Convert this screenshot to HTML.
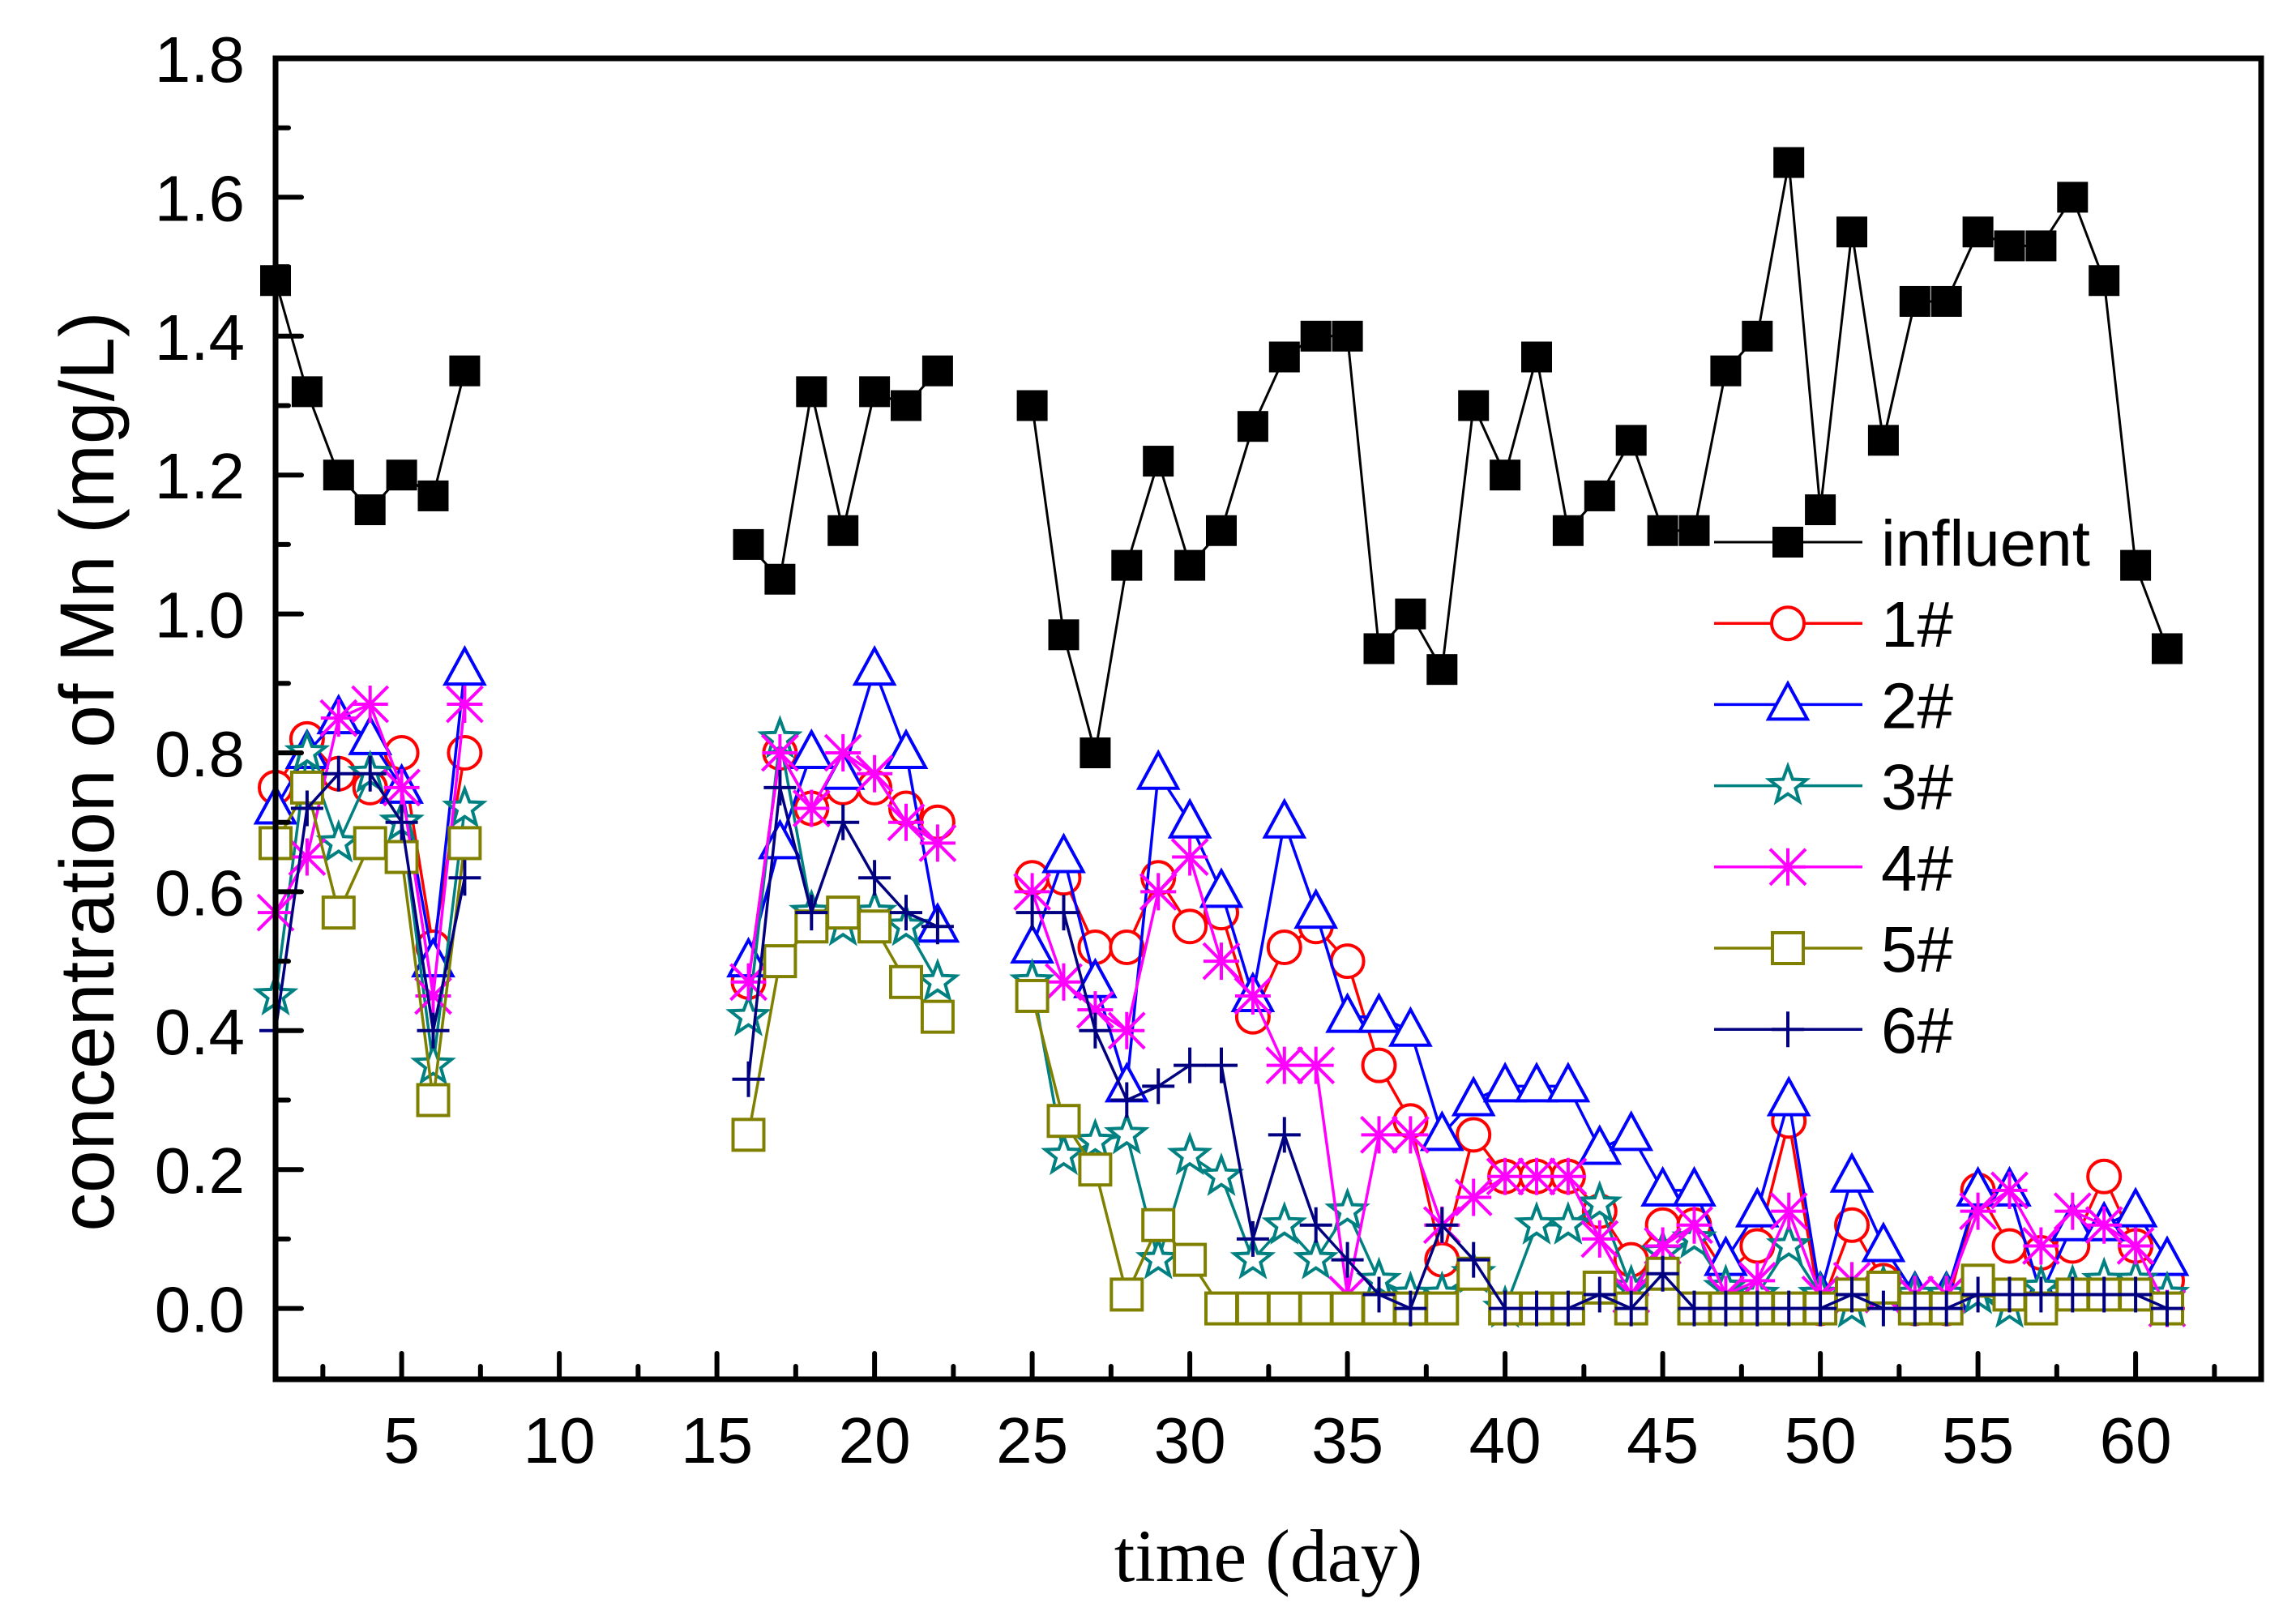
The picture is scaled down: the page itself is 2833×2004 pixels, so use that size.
<!DOCTYPE html>
<html><head><meta charset="utf-8">
<style>
html,body{margin:0;padding:0;background:#fff;}
svg{display:block;}
text{font-family:"Liberation Sans",sans-serif;}
</style></head>
<body>
<svg id="chart" width="2833" height="2004" viewBox="0 0 2833 2004" xmlns="http://www.w3.org/2000/svg">
<rect x="0" y="0" width="2833" height="2004" fill="#fff"/>
<g id="series-layer"></g>
<rect x="340" y="72" width="2450" height="1630" fill="none" stroke="#000" stroke-width="7"/>
<g id="axis-layer"></g>
<text transform="translate(140,952) rotate(-90)" text-anchor="middle" font-size="95">concentration of Mn (mg/L)</text>
<text x="1565" y="1951" text-anchor="middle" font-size="92" style="font-family:'Liberation Serif',serif">time (day)</text>
<g id="legend"></g>
</svg>
<script>
const days = [1,2,3,4,5,6,7,16,17,18,19,20,21,22,25,26,27,28,29,30,31,32,33,34,35,36,37,38,39,40,41,42,43,44,45,46,47,48,49,50,51,52,53,54,55,56,57,58,59,60,61];
const influent = [1.48,1.32,1.20,1.15,1.20,1.17,1.35, 1.10,1.05,1.32,1.12,1.32,1.30,1.35, 1.30,0.97,0.80,1.07,1.22,1.07,1.12,1.27,1.37,1.40,1.40,0.95,1.00,0.92,1.30,1.20,1.37,1.12,1.17,1.25,1.12,1.12,1.35,1.40,1.65,1.15,1.55,1.25,1.45,1.45,1.55,1.53,1.53,1.60,1.48,1.07,0.95];
const s1 = [0.75,0.82,0.77,0.75,0.80,0.52,0.80, 0.47,0.80,0.72,0.75,0.75,0.72,0.70, 0.62,0.62,0.52,0.52,0.62,0.55,0.57,0.42,0.52,0.55,0.50,0.35,0.27,0.07,0.25,0.19,0.19,0.19,0.14,0.07,0.12,0.12,0.05,0.09,0.27,0.00,0.12,0.04,0.00,0.00,0.17,0.09,0.08,0.09,0.19,0.09,0.04];
const s2 = [0.72,0.80,0.85,0.82,0.75,0.50,0.92, 0.50,0.67,0.80,0.77,0.92,0.80,0.55, 0.52,0.65,0.47,0.32,0.77,0.70,0.60,0.45,0.70,0.57,0.42,0.42,0.40,0.25,0.30,0.32,0.32,0.32,0.23,0.25,0.17,0.17,0.07,0.14,0.30,0.02,0.19,0.09,0.02,0.02,0.17,0.17,0.02,0.12,0.12,0.14,0.07];
const s3 = [0.45,0.80,0.67,0.77,0.70,0.35,0.72, 0.42,0.82,0.57,0.55,0.57,0.55,0.47, 0.47,0.22,0.24,0.25,0.07,0.22,0.19,0.07,0.12,0.07,0.14,0.04,0.02,0.02,0.05,0.00,0.12,0.12,0.15,0.03,0.08,0.10,0.03,0.02,0.09,0.02,0.00,0.03,0.02,0.02,0.02,0.00,0.03,0.03,0.04,0.04,0.02];
const s4 = [0.57,0.65,0.85,0.87,0.75,0.45,0.87, 0.47,0.80,0.72,0.80,0.77,0.70,0.67, 0.60,0.47,0.43,0.40,0.60,0.65,0.50,0.45,0.35,0.35,0.02,0.25,0.25,0.12,0.16,0.19,0.19,0.19,0.10,0.02,0.09,0.12,0.02,0.04,0.14,0.02,0.04,0.02,0.02,0.02,0.14,0.17,0.09,0.14,0.12,0.09,0.00];
const s5 = [0.67,0.75,0.57,0.67,0.65,0.30,0.67, 0.25,0.50,0.55,0.57,0.55,0.47,0.42, 0.45,0.27,0.20,0.02,0.12,0.07,0.00,0.00,0.00,0.00,0.00,0.00,0.00,0.00,0.05,0.00,0.00,0.00,0.03,0.00,0.05,0.00,0.00,0.00,0.00,0.00,0.02,0.03,0.00,0.00,0.04,0.02,0.00,0.02,0.02,0.02,0.00];
const s6 = [0.40,0.72,0.77,0.77,0.70,0.40,0.62, 0.33,0.75,0.57,0.70,0.62,0.57,0.55, 0.57,0.57,0.40,0.30,0.32,0.35,0.35,0.10,0.25,0.12,0.07,0.02,0.00,0.12,0.07,0.00,0.00,0.00,0.02,0.00,0.05,0.00,0.00,0.00,0.00,0.00,0.02,0.00,0.00,0.00,0.02,0.02,0.02,0.02,0.02,0.02,0.00];
const xTicks = [5,10,15,20,25,30,35,40,45,50,55,60];
const yTicks = [0.0,0.2,0.4,0.6,0.8,1.0,1.2,1.4,1.6,1.8];
const seriesNames = ["influent","1#","2#","3#","4#","5#","6#"];

const NS="http://www.w3.org/2000/svg";
const X0=340, XD0=1, KX=38.9;
function xs(d){return X0+KX*(d-XD0);}
function ys(v){return 1614.6-857*v;}
function mk(tag,attrs,parent){const e=document.createElementNS(NS,tag);for(const k in attrs)e.setAttribute(k,attrs[k]);parent.appendChild(e);return e;}

const styles=[
 {c:"#000",m:"fsquare",lw:3},
 {c:"#ff0000",m:"circle",lw:3.5},
 {c:"#0000ff",m:"triangle",lw:3.5},
 {c:"#008080",m:"star",lw:3.5},
 {c:"#ff00ff",m:"asterisk",lw:3.5},
 {c:"#808000",m:"square",lw:3.5},
 {c:"#000080",m:"plus",lw:3.5}
];
function marker(type,x,y,c,parent){
  let e;
  if(type==="fsquare"){e=mk("rect",{x:x-19,y:y-19,width:38,height:38,fill:"#000"},parent);}
  else if(type==="circle"){e=mk("circle",{cx:x,cy:y,r:20,fill:"#fff",stroke:c,"stroke-width":4},parent);}
  else if(type==="triangle"){e=mk("polygon",{points:`${x},${y-26} ${x-24},${y+18} ${x+24},${y+18}`,fill:"#fff",stroke:c,"stroke-width":4},parent);}
  else if(type==="star"){let p=[];for(let i=0;i<10;i++){const r=i%2?10:24;const a=-Math.PI/2+i*Math.PI/5;p.push((x+r*Math.cos(a)).toFixed(1)+","+(y+r*Math.sin(a)).toFixed(1));}
    e=mk("polygon",{points:p.join(" "),fill:"#fff",stroke:c,"stroke-width":4},parent);}
  else if(type==="asterisk"){e=mk("path",{d:`M${x},${y-23}V${y+23}M${x-22},${y-22}L${x+22},${y+22}M${x+22},${y-22}L${x-22},${y+22}M${x-22},${y}H${x+22}`,fill:"none",stroke:c,"stroke-width":4},parent);}
  else if(type==="square"){e=mk("rect",{x:x-19,y:y-19,width:38,height:38,fill:"#fff",stroke:c,"stroke-width":4},parent);}
  else if(type==="plus"){e=mk("path",{d:`M${x},${y-22}V${y+22}M${x-20},${y}H${x+20}`,fill:"none",stroke:c,"stroke-width":4},parent);}
  return e;
}
const all=[influent,s1,s2,s3,s4,s5,s6];
const sl=document.getElementById("series-layer");
all.forEach((vals,si)=>{
  const st=styles[si];
  const g=mk("g",{},sl);
  
  
  let d="";
  for(let i=0;i<days.length;i++){
    const cont=i>0 && days[i]-days[i-1]===1;
    d+=(cont?"L":"M")+xs(days[i]).toFixed(1)+","+ys(vals[i]).toFixed(1);
  }
  const ln=mk("path",{d:d,fill:"none",stroke:st.c,"stroke-width":st.lw,"stroke-linejoin":"round"},g);
  
  
  for(let i=0;i<days.length;i++){
    const m=marker(st.m,xs(days[i]),ys(vals[i]),st.c,g);
    
    
  }
});

const al=document.getElementById("axis-layer");
for(let d=2.5;d<=63;d+=2.5){
  const major=(d%5===0);
  const t=mk("line",{x1:xs(d),x2:xs(d),y1:1702,y2:major?1670:1686,stroke:"#000","stroke-width":6,"stroke-linecap":"round"},al);
  
  
}
xTicks.forEach(d=>{
  const t=mk("text",{x:xs(d),y:1805,"text-anchor":"middle","font-size":80},al);
  t.textContent=String(d);
  
  
});
for(let k=-1;k<=18;k++){
  const v=k/10; if(v<=-0.1||v>=1.8) continue;
  const major=(k%2===0);
  const t=mk("line",{x1:340,x2:major?372:356,y1:ys(v),y2:ys(v),stroke:"#000","stroke-width":6,"stroke-linecap":"round"},al);
  
  
}
yTicks.forEach(v=>{
  const t=mk("text",{x:302,y:ys(v)+29,"text-anchor":"end","font-size":80},al);
  t.textContent=v.toFixed(1);
  
  
});

const lg=document.getElementById("legend");
seriesNames.forEach((nm,i)=>{
  const y=669+100.2*i, st=styles[i];
  const g=mk("g",{},lg);
  
  
  mk("line",{x1:2115,x2:2298,y1:y,y2:y,stroke:st.c,"stroke-width":st.lw},g);
  marker(st.m,2206,y,st.c,g);
  const t=mk("text",{x:2321,y:y+29,"font-size":80},g);
  t.textContent=nm;
});
</script>
</body></html>
